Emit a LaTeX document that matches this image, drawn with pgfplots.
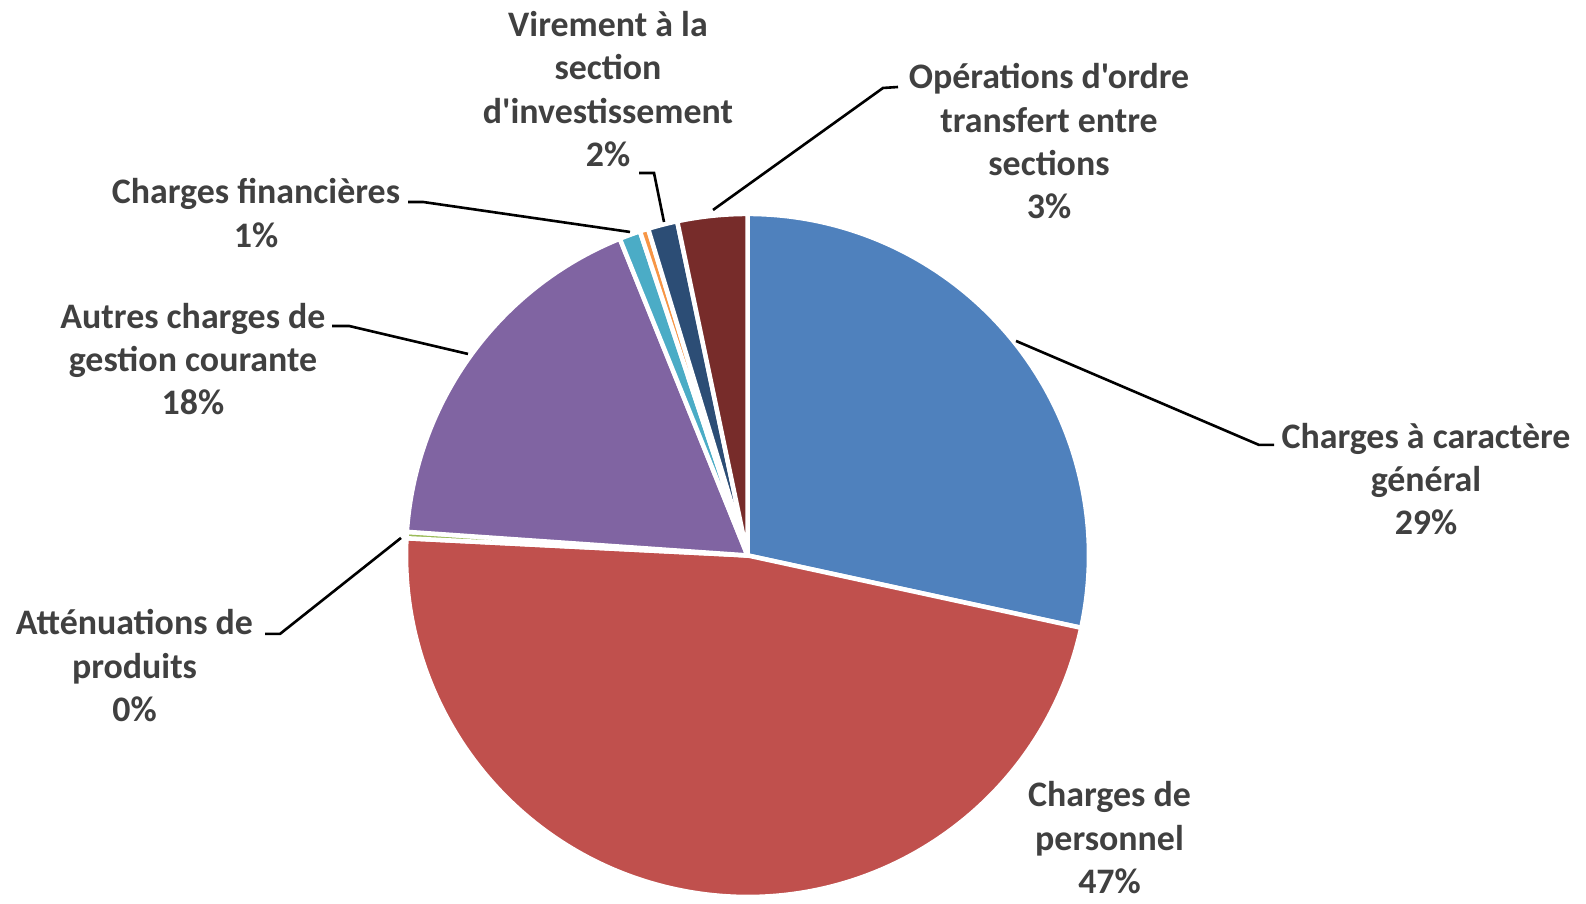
\documentclass[border=0pt]{standalone}
\usepackage{pgfplots}
\usepackage{pgfplotstable}
\usepackage{fontspec}
\setmainfont{Carlito}[Ligatures=TeXOff]
\pgfplotsset{compat=1.18}

\definecolor{c1}{HTML}{4F81BD}
\definecolor{c2}{HTML}{C0504D}
\definecolor{c3}{HTML}{9BBB59}
\definecolor{c4}{HTML}{8064A2}
\definecolor{c5}{HTML}{4BACC6}
\definecolor{c6}{HTML}{F79646}
\definecolor{c7}{HTML}{2C4D75}
\definecolor{c8}{HTML}{772C2A}
\definecolor{txt}{HTML}{404040}

\tikzset{
    lbl/.style={font=\bfseries\fontsize{10.3}{12.45}\selectfont, text=txt, align=center, inner sep=0pt},
    ld/.style={black, line width=0.75pt},
}

% shares in percent, clockwise from 12 o'clock
\pgfplotstableread{
v     c
28.4  c1
47.4  c2
0.3   c3
17.8  c4
1.0   c5
0.4   c6
1.4   c7
3.3   c8
}\piedata

\begin{document}
\begin{tikzpicture}
\useasboundingbox (0,0) rectangle (16cm,9.1185cm);
\begin{axis}[
    at={(0,0)}, anchor=south west,
    width=16cm, height=9.1185cm, scale only axis,
    xmin=0, xmax=1586, ymin=0, ymax=904,
    hide axis, clip=false,
]
\def\r{3.445cm}
\def\cum{0}
\pgfplotsforeachungrouped \i in {0,...,7}{%
    \pgfplotstablegetelem{\i}{v}\of\piedata \let\val\pgfplotsretval
    \pgfplotstablegetelem{\i}{c}\of\piedata \let\col\pgfplotsretval
    \pgfmathsetmacro{\a}{90-3.6*\cum}
    \pgfmathsetmacro{\b}{90-3.6*(\cum+\val)}
    \edef\temp{\noexpand\filldraw[fill=\col, draw=white, line width=1.3pt, line join=round]
        (axis cs:747.5,348.5) -- ++(\a:\r) arc[start angle=\a, end angle=\b, radius=\r] -- cycle;}
    \temp
    \pgfmathsetmacro{\cum}{\cum+\val}
}

% leader lines
\draw[ld] (axis cs:639,731) -- (axis cs:654,731) -- (axis cs:664,682);
\draw[ld] (axis cs:408,702) -- (axis cs:423,702) -- (axis cs:630,672);
\draw[ld] (axis cs:898,817) -- (axis cs:883,816) -- (axis cs:713,694);
\draw[ld] (axis cs:332,578) -- (axis cs:349,578) -- (axis cs:468,550);
\draw[ld] (axis cs:1274,459) -- (axis cs:1259,459) -- (axis cs:1016,563);
\draw[ld] (axis cs:265,270) -- (axis cs:280,270) -- (axis cs:401,366);

% labels
\node[lbl] at (axis cs:608,815) {Virement à la\\section\\d'investissement\\2\%};
\node[lbl] at (axis cs:1049,762.7) {Opérations d'ordre\\transfert entre\\sections\\3\%};
\node[lbl] at (axis cs:256,691.1) {Charges financières\\1\%};
\node[lbl] at (axis cs:193,545) {Autres charges de\\gestion courante\\18\%};
\node[lbl] at (axis cs:1426,424.9) {Charges à caractère\\général\\29\%};
\node[lbl] at (axis cs:134.5,238.1) {Atténuations de\\produits\\0\%};
\node[lbl] at (axis cs:1109.5,66) {Charges de\\personnel\\47\%};
\end{axis}
\end{tikzpicture}
\end{document}
